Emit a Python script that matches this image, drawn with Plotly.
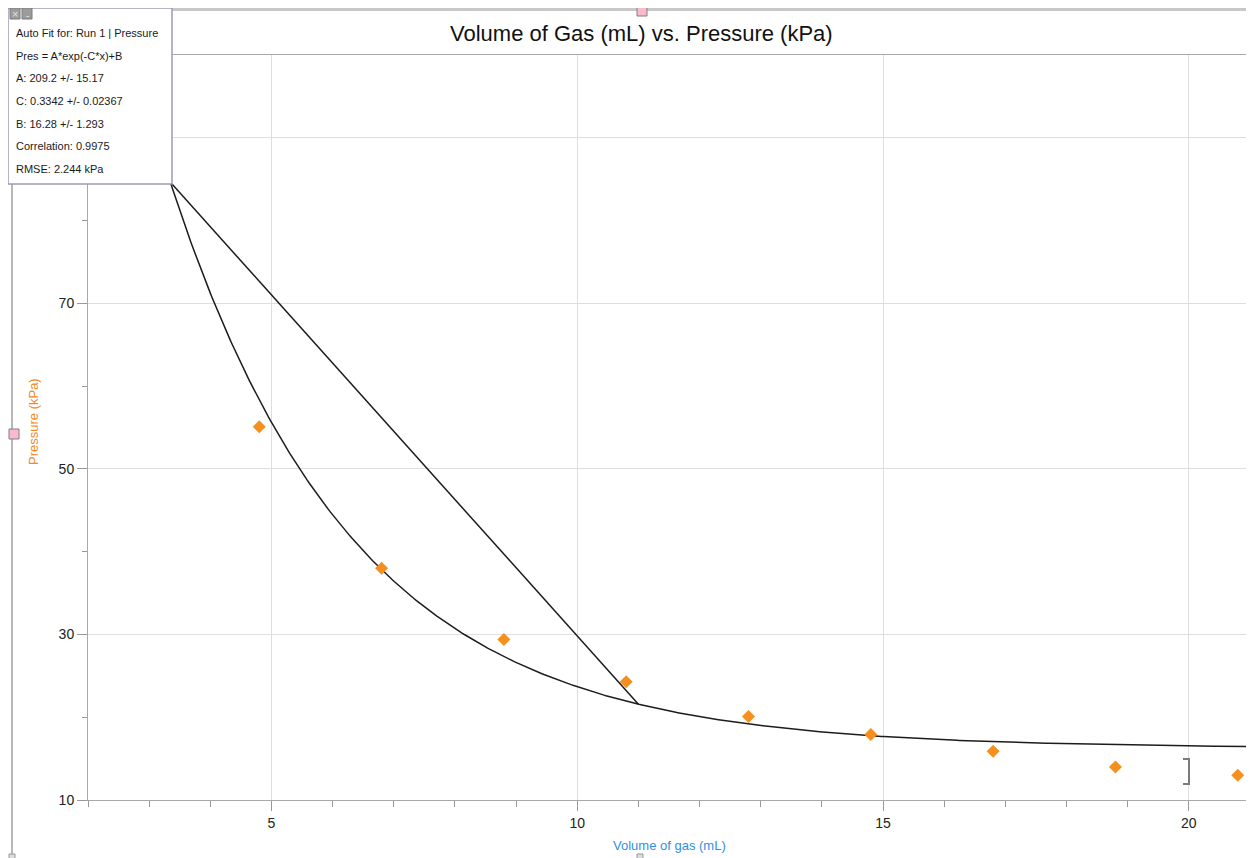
import numpy as np
import plotly.graph_objects as go

# ---- data ----
volume_ml = [4.8, 6.8, 8.8, 10.8, 12.8, 14.8, 16.8, 18.8, 20.8]
pressure_kpa = [55.1, 38.0, 29.4, 24.3, 20.1, 17.9, 15.9, 14.0, 13.0]

# auto-fit parameters shown in the chart: Pres = A*exp(-C*x)+B
fit_A = 209.2
fit_C = 0.3342
fit_B = 16.28
fit_lines = [
    "Auto Fit for: Run 1 | Pressure",
    "Pres = A*exp(-C*x)+B",
    "A: 209.2 +/- 15.17",
    "C: 0.3342 +/- 0.02367",
    "B: 16.28 +/- 1.293",
    "Correlation: 0.9975",
    "RMSE: 2.244 kPa",
]
x_range = [2, 21]
y_range = [10, 100]
x_ticks = [5, 10, 15, 20]
y_ticks = [10, 30, 50, 70, 90]
y_tick_text = ["10", "30", "50", "70", ""]
connector_x = 11.0

FONT = "Liberation Sans, Arial, sans-serif"
W_FIG, H_FIG = 1254, 858
OFF = 8  # page body margin offset
L, T = 88 - OFF, 55 - OFF
PW, PH = 1162, 745
R = W_FIG - L - PW
B = H_FIG - T - PH


def px(x):
    return (x - OFF - L) / PW


def py(y):
    return (T + PH - (y - OFF)) / PH


def fit(x):
    return fit_A * np.exp(-fit_C * np.asarray(x)) + fit_B


xs = np.linspace(x_range[0], x_range[1], 600)

fig = go.Figure()
fig.add_trace(go.Scatter(x=xs, y=fit(xs), mode="lines",
                         line=dict(color="#1c1c1c", width=1.5),
                         hoverinfo="skip", showlegend=False))
fig.add_trace(go.Scatter(x=volume_ml, y=pressure_kpa, mode="markers",
                         marker=dict(symbol="diamond", size=10, color="#f5901f"),
                         showlegend=False))

shapes = []
# window frame lines
shapes.append(dict(type="line", xref="paper", yref="paper", x0=px(0), x1=px(1262),
                   y0=py(9.5), y1=py(9.5), line=dict(color="#c8c8c8", width=3)))
shapes.append(dict(type="line", xref="paper", yref="paper", x0=px(12), x1=px(12),
                   y0=py(9), y1=py(866), line=dict(color="#b8b8b8", width=2)))
# pink handles
for cx, cy in [(642, 11), (14, 434)]:
    shapes.append(dict(type="rect", xref="paper", yref="paper",
                       x0=px(cx - 5), x1=px(cx + 5), y0=py(cy + 5), y1=py(cy - 5),
                       fillcolor="#f6bccb", line=dict(color="#8a7a80", width=1)))
# tiny bottom handles
for cx in [12, 640]:
    shapes.append(dict(type="rect", xref="paper", yref="paper",
                       x0=px(cx - 3), x1=px(cx + 3), y0=py(860), y1=py(854),
                       fillcolor="#dddddd", line=dict(color="#999999", width=1)))
# connector from fit box to curve
shapes.append(dict(type="line", xref="paper", yref="paper",
                   x0=px(172), y0=py(184),
                   x1=(connector_x - x_range[0]) / (x_range[1] - x_range[0]),
                   y1=(float(fit(connector_x)) - y_range[0]) / (y_range[1] - y_range[0]),
                   line=dict(color="#1c1c1c", width=1.5)))
# fit info box
shapes.append(dict(type="rect", xref="paper", yref="paper",
                   x0=px(8), x1=px(172), y0=py(184), y1=py(8),
                   fillcolor="white", line=dict(color="#9a9ab8", width=1.5)))
# box buttons
for bx in [10, 22]:
    shapes.append(dict(type="rect", xref="paper", yref="paper",
                       x0=px(bx), x1=px(bx + 10), y0=py(19), y1=py(8),
                       fillcolor="#9c9c9c", line=dict(color="#7a7a7a", width=1)))
# range bracket
shapes.append(dict(type="path", xref="paper", yref="paper",
                   path=f"M {px(1183)},{py(759)} L {px(1189)},{py(759)} L {px(1189)},{py(784)} L {px(1183)},{py(784)}",
                   line=dict(color="#7a7a7a", width=2)))

annotations = []
for i, txt in enumerate(fit_lines):
    annotations.append(dict(text=txt, xref="paper", yref="paper",
                            x=px(14), y=py(33.3 + 22.6 * i), xanchor="left", yanchor="middle",
                            showarrow=False, font=dict(family=FONT, size=11, color="#1a1a1a")))
annotations.append(dict(text="×", xref="paper", yref="paper", x=px(15), y=py(13.5),
                        xanchor="center", yanchor="middle", showarrow=False,
                        font=dict(family=FONT, size=11, color="#e0e0e0")))
annotations.append(dict(text="-", xref="paper", yref="paper", x=px(27), y=py(15),
                        xanchor="center", yanchor="middle", showarrow=False,
                        font=dict(family=FONT, size=10, color="#e0e0e0")))
annotations.append(dict(text="Volume of Gas (mL) vs. Pressure (kPa)", xref="paper", yref="paper",
                        x=px(641), y=py(33), xanchor="center", yanchor="middle", showarrow=False,
                        font=dict(family=FONT, size=22, color="#111111")))
annotations.append(dict(text="Volume of gas (mL)", xref="paper", yref="paper",
                        x=px(669), y=py(845), xanchor="center", yanchor="middle", showarrow=False,
                        font=dict(family=FONT, size=13, color="#2f8fe6")))
annotations.append(dict(text="Pressure (kPa)", xref="paper", yref="paper",
                        x=px(33), y=py(422), xanchor="center", yanchor="middle", showarrow=False,
                        textangle=-90, font=dict(family=FONT, size=13, color="#f08a24")))

fig.update_layout(
    width=W_FIG, height=H_FIG,
    margin=dict(l=L, r=R, t=T, b=B, autoexpand=False),
    paper_bgcolor="white", plot_bgcolor="white",
    template="none",
    shapes=shapes, annotations=annotations,
    showlegend=False,
)
fig.update_xaxes(range=x_range, tickvals=x_ticks, ticks="outside", ticklen=10, tickcolor="#999999",
                 showgrid=True, gridcolor="#dedede", gridwidth=1, zeroline=False,
                 showline=True, linecolor="#a8a8a8", linewidth=1, mirror=True,
                 tickfont=dict(family=FONT, size=14, color="#222222"),
                 minor=dict(dtick=1, tick0=0, ticks="outside", ticklen=6, tickcolor="#999999", showgrid=False),
                 automargin=False)
fig.update_yaxes(range=y_range, tickvals=y_ticks, ticktext=y_tick_text, ticks="outside", ticklen=10,
                 tickcolor="#999999",
                 showgrid=True, gridcolor="#dedede", gridwidth=1, zeroline=False,
                 showline=True, linecolor="#a8a8a8", linewidth=1, mirror=True,
                 tickfont=dict(family=FONT, size=14, color="#222222"),
                 minor=dict(dtick=10, tick0=0, ticks="outside", ticklen=5, tickcolor="#999999", showgrid=False),
                 automargin=False)

fig.write_html("out.html")
